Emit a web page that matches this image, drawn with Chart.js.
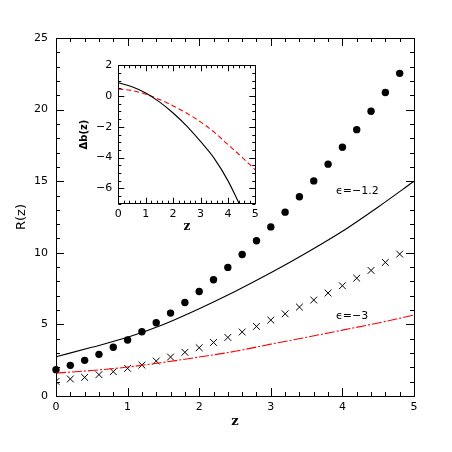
<!DOCTYPE html>
<html>
<head>
<meta charset="utf-8">
<script src="https://cdn.jsdelivr.net/npm/chart.js"></script>
<style>
html, body { margin: 0; padding: 0; background: #fff; }
#wrap { position: relative; width: 452px; height: 452px; }
#main { position: absolute; left: 0; top: 0; }
#inset { position: absolute; left: 60px; top: 50px; }
</style>
</head>
<body>
<div id="wrap">
  <canvas id="main" width="452" height="452"></canvas>
  <canvas id="inset" width="210" height="200"></canvas>
</div>
<script>
// main panel: R(z)
const zPts = [0, 0.2, 0.4, 0.6, 0.8, 1.0, 1.2, 1.4, 1.6, 1.8, 2.0, 2.2, 2.4, 2.6, 2.8, 3.0, 3.2, 3.4, 3.6, 3.8, 4.0, 4.2, 4.4, 4.6, 4.8];
const rDots = [1.84, 2.14, 2.49, 2.91, 3.40, 3.91, 4.49, 5.12, 5.79, 6.53, 7.30, 8.12, 8.98, 9.88, 10.84, 11.81, 12.84, 13.91, 15.02, 16.19, 17.37, 18.60, 19.88, 21.19, 22.53];
const rCross = [1.02, 1.19, 1.30, 1.49, 1.70, 1.93, 2.16, 2.44, 2.72, 3.05, 3.37, 3.74, 4.09, 4.47, 4.86, 5.30, 5.74, 6.21, 6.70, 7.19, 7.70, 8.23, 8.77, 9.33, 9.91];
const zCurve = [0, 0.5, 1.0, 1.5, 2.0, 2.5, 3.0, 3.5, 4.0, 4.5, 5.0];
const rEps12 = [2.74, 3.40, 4.10, 5.00, 6.10, 7.30, 8.60, 10.00, 11.50, 13.20, 15.00];
const rEps3 = [1.60, 1.78, 2.02, 2.35, 2.72, 3.12, 3.62, 4.10, 4.60, 5.10, 5.65];
const mainXTicks = [0, 1, 2, 3, 4, 5];
const mainYTicks = [0, 5, 10, 15, 20, 25];
const epsText = ['ϵ=−1.2', 'ϵ=−3'];
const epsAt = [[3.91, 14.3], [3.91, 5.55]];

// inset: delta b(z)
const zIn12 = [0, 0.5, 1.0, 1.5, 2.0, 2.5, 3.0, 3.5, 4.0, 4.4];
const db12 = [0.87, 0.60, 0.20, -0.38, -1.10, -1.95, -2.95, -4.05, -5.50, -6.95];
const zIn3 = [0, 0.5, 1.0, 1.5, 2.0, 2.5, 3.0, 3.5, 4.0, 4.5, 5.0];
const db3 = [0.46, 0.36, 0.12, -0.22, -0.64, -1.12, -1.68, -2.35, -3.15, -3.95, -4.80];
const insetXTicks = [0, 1, 2, 3, 4, 5];
const insetYTicks = [-6, -4, -2, 0, 2];

const pts = (xs, ys) => xs.map((x, i) => ({ x: x, y: ys[i] }));
const minus = v => String(v).replace('-', '\u2212');

Chart.defaults.font.family = '"DejaVu Sans", sans-serif';
Chart.defaults.font.size = 11;
Chart.defaults.color = '#000';

// inward ticks on all four sides + frame
function frameTicks(xMaj, xMinStep, yMaj, yMinStep, majLen, minLen) {
  return {
    id: 'frameTicks',
    afterDraw(chart) {
      const { ctx, chartArea: a } = chart;
      const x = chart.scales.x, y = chart.scales.y;
      ctx.save();
      ctx.strokeStyle = '#000';
      ctx.lineWidth = 1;
      ctx.beginPath();
      const tx = (v, len) => {
        const p = Math.round(x.getPixelForValue(v)) + 0.5;
        ctx.moveTo(p, a.bottom); ctx.lineTo(p, a.bottom - len);
        ctx.moveTo(p, a.top); ctx.lineTo(p, a.top + len);
      };
      const ty = (v, len) => {
        const p = Math.round(y.getPixelForValue(v)) + 0.5;
        ctx.moveTo(a.left, p); ctx.lineTo(a.left + len, p);
        ctx.moveTo(a.right, p); ctx.lineTo(a.right - len, p);
      };
      for (let v = x.min; v <= x.max + 1e-9; v += xMinStep) tx(v, minLen);
      for (let v = y.min; v <= y.max + 1e-9; v += yMinStep) ty(v, minLen);
      xMaj.forEach(v => tx(v, majLen));
      yMaj.forEach(v => ty(v, majLen));
      ctx.stroke();
      ctx.strokeRect(Math.round(a.left) + 0.5, Math.round(a.top) + 0.5,
        Math.round(a.right - a.left), Math.round(a.bottom - a.top));
      ctx.restore();
    }
  };
}

const epsLabels = {
  id: 'epsLabels',
  afterDatasetsDraw(chart) {
    const { ctx } = chart;
    const x = chart.scales.x, y = chart.scales.y;
    ctx.save();
    ctx.fillStyle = '#000';
    ctx.font = '11px "DejaVu Sans", sans-serif';
    ctx.textAlign = 'left';
    ctx.textBaseline = 'middle';
    epsText.forEach((t, i) => ctx.fillText(t, x.getPixelForValue(epsAt[i][0]), y.getPixelForValue(epsAt[i][1])));
    ctx.restore();
  }
};

function axis(min, max, ticks, fmt, pad, size, title, tfont, tpad) {
  return {
    type: 'linear', min: min, max: max,
    afterBuildTicks: s => { s.ticks = ticks.map(v => ({ value: v })); },
    afterFit: s => { if (s.isHorizontal()) s.height = size; else s.width = size; },
    grid: { display: false, drawTicks: false },
    border: { display: false },
    ticks: { padding: pad, maxRotation: 0, autoSkip: false, color: '#000', callback: fmt },
    title: { display: true, text: title, color: '#000', font: tfont, padding: tpad }
  };
}

new Chart(document.getElementById('main'), {
  type: 'scatter',
  data: {
    datasets: [
      { data: pts(zCurve, rEps12), showLine: true, borderColor: '#000', borderWidth: 1.1,
        pointRadius: 0, cubicInterpolationMode: 'monotone', clip: 0 },
      { data: pts(zCurve, rEps3), showLine: true, borderColor: '#ff0000', borderWidth: 1.1,
        borderDash: [10, 2, 2, 2], pointRadius: 0, cubicInterpolationMode: 'monotone', clip: 0 },
      { data: pts(zPts, rDots), pointStyle: 'circle', pointRadius: 3.7, pointBorderWidth: 0,
        backgroundColor: '#000', borderColor: '#000', clip: false },
      { data: pts(zPts, rCross), pointStyle: 'crossRot', pointRadius: 4.8, pointBorderWidth: 1,
        borderColor: '#000', backgroundColor: '#000', clip: 0 }
    ]
  },
  options: {
    responsive: false, animation: false, devicePixelRatio: 1,
    layout: { padding: { left: 0, top: 38, right: 38, bottom: 0 } },
    plugins: { legend: { display: false }, tooltip: { enabled: false } },
    scales: {
      x: axis(0, 5, mainXTicks, v => minus(v), 5, 56, 'z',
        { family: '"DejaVu Serif", serif', weight: 'bold', size: 13 }, { top: 0, bottom: 23 }),
      y: axis(0, 25, mainYTicks, v => minus(v), 8, 56, 'R(z)',
        { family: '"DejaVu Sans", sans-serif', size: 13 }, { top: 14, bottom: 0 })
    }
  },
  plugins: [frameTicks(mainXTicks, 0.2, mainYTicks, 1, 8, 4), epsLabels]
});

new Chart(document.getElementById('inset'), {
  type: 'scatter',
  data: {
    datasets: [
      { data: pts(zIn12, db12), showLine: true, borderColor: '#000', borderWidth: 1.1,
        pointRadius: 0, cubicInterpolationMode: 'monotone', clip: 0 },
      { data: pts(zIn3, db3), showLine: true, borderColor: '#ff0000', borderWidth: 1.1,
        borderDash: [5, 3], pointRadius: 0, cubicInterpolationMode: 'monotone', clip: 0 }
    ]
  },
  options: {
    responsive: false, animation: false, devicePixelRatio: 1,
    layout: { padding: { left: 0, top: 15.3, right: 14.7, bottom: 0 } },
    plugins: { legend: { display: false }, tooltip: { enabled: false } },
    scales: {
      x: axis(0, 5, insetXTicks, v => minus(v), 3.5, 46.3, 'z',
        { family: '"DejaVu Serif", serif', weight: 'bold', size: 12 }, { top: 0, bottom: 16 }),
      y: axis(-7, 2, insetYTicks, v => minus(v), 6, 58.3, 'Δb(z)',
        { family: '"DejaVu Sans", sans-serif', weight: 'bold', size: 10 }, { top: 18, bottom: 0 })
    }
  },
  plugins: [frameTicks(insetXTicks, 0.2, insetYTicks, 0.5, 6, 3)]
});
</script>
</body>
</html>
